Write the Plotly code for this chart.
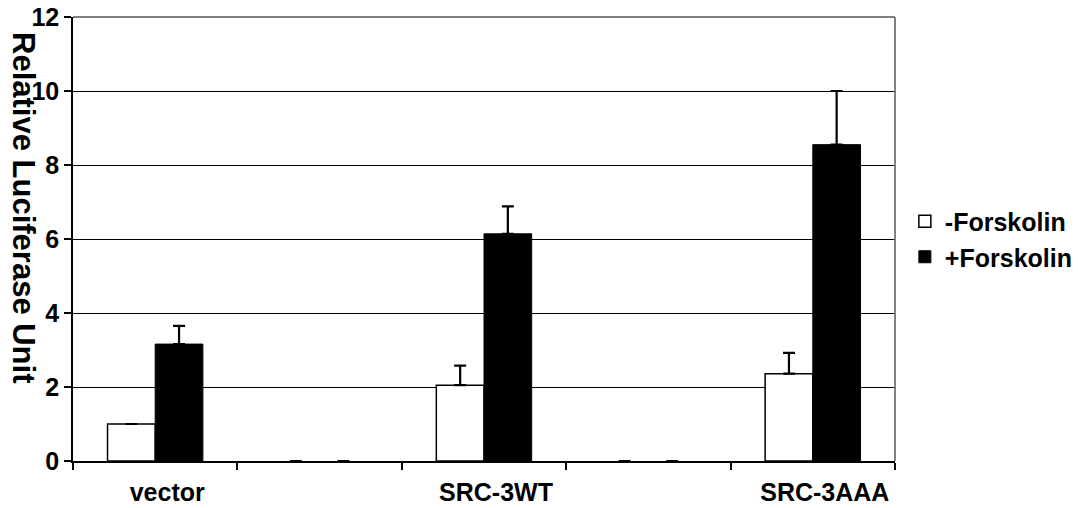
import plotly.graph_objects as go

categories = ["vector", " ", "SRC-3WT", "  ", "SRC-3AAA"]
minus_forskolin = [1.0, 0, 2.05, 0, 2.36]
minus_err = [0.0, 0, 0.53, 0, 0.56]
plus_forskolin = [3.16, 0, 6.14, 0, 8.55]
plus_err = [0.49, 0, 0.74, 0, 1.45]
zeros = [0, 0, 0, 0, 0]
outline_minus = [1.5, 0, 1.5, 0, 1.5]
outline_plus = [1, 0, 1, 0, 1]

y_ticks = [0, 2, 4, 6, 8, 10, 12]

FONT = "Liberation Sans, Arial, sans-serif"

fig = go.Figure()
fig.add_trace(go.Bar(
    x=categories, y=minus_forskolin, name="-Forskolin",
    marker=dict(color="white", line=dict(color="black", width=outline_minus)),
    error_y=dict(type="data", symmetric=False, array=minus_err, arrayminus=zeros,
                 color="black", thickness=2.2, width=6),
))
fig.add_trace(go.Bar(
    x=categories, y=plus_forskolin, name="+Forskolin",
    marker=dict(color="black", line=dict(color="black", width=outline_plus)),
    error_y=dict(type="data", symmetric=False, array=plus_err, arrayminus=zeros,
                 color="black", thickness=2.2, width=6),
))

fig.update_layout(
    width=1079, height=508,
    margin=dict(l=73, r=184, t=17, b=47, autoexpand=False),
    paper_bgcolor="white", plot_bgcolor="white",
    barmode="group", bargap=0.42, bargroupgap=0,
    font=dict(family=FONT, size=25, color="black", weight="bold"),
    legend=dict(x=1.012, y=0.5, xanchor="left", yanchor="middle",
                font=dict(family=FONT, size=25, color="black", weight="bold"),
                itemwidth=30, tracegroupgap=0, bgcolor="rgba(0,0,0,0)"),
    showlegend=True,
)
fig.update_xaxes(
    type="category", categoryorder="array", categoryarray=categories,
    showline=True, linecolor="black", linewidth=1.5, automargin=False,
    ticks="outside", ticklen=7, tickcolor="black", tickwidth=1.5,
    tickson="boundaries", showgrid=False, zeroline=False,
    ticklabelstandoff=8, ticklabelshift=12,
    tickfont=dict(family=FONT, size=25, color="black", weight="bold"),
)
fig.update_yaxes(
    range=[0, 12], tickvals=y_ticks, ticktext=[str(v) for v in y_ticks],
    showline=True, linecolor="black", linewidth=1.5, automargin=False,
    ticks="outside", ticklen=7, tickcolor="black", tickwidth=1.5,
    showgrid=True, gridcolor="black", gridwidth=1, zeroline=False,
    tickfont=dict(family=FONT, size=25, color="black", weight="bold"),
)
# gray frame on top and right
fig.add_shape(type="line", xref="paper", yref="paper", x0=0, x1=1, y0=1, y1=1,
              line=dict(color="#808080", width=2))
fig.add_shape(type="line", xref="paper", yref="paper", x0=1, x1=1, y0=0, y1=1,
              line=dict(color="#808080", width=2))

fig.add_annotation(
    text="Relative Luciferase Unit", textangle=90,
    xref="paper", yref="paper", x=0, xshift=-49, y=0.572,
    xanchor="center", yanchor="middle", showarrow=False,
    font=dict(family=FONT, size=31, color="black", weight="bold"),
)

fig.write_html("out.html", config={"displayModeBar": False},
               post_script="document.body.style.margin='0';")
